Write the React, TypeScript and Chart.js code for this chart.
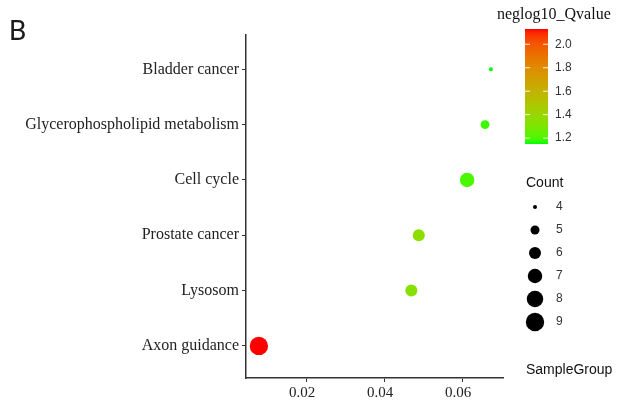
import React, { useEffect, useRef } from "react";
import { Chart, registerables } from "chart.js";

Chart.register(...registerables);

// Categories from bottom to top
const categories: string[] = [
  "Axon guidance",
  "Lysosom",
  "Prostate cancer",
  "Cell cycle",
  "Glycerophospholipid metabolism",
  "Bladder cancer",
];
const geneRatio: number[] = [0.0079, 0.047, 0.0489, 0.0613, 0.0659, 0.0674];
const counts: number[] = [9, 6, 6, 7, 5, 4];
const qvalues: number[] = [2.13, 1.34, 1.35, 1.2, 1.18, 1.15];

const xTicks: number[] = [0.02, 0.04, 0.06];
const colorTicks: number[] = [1.2, 1.4, 1.6, 1.8, 2.0];
const countLegend: number[] = [4, 5, 6, 7, 8, 9];

const X_MIN = 0.0046;
const X_MAX = 0.0705;

// ---- Lab interpolation (ggplot-like gradient) ----
function toLin(c: number) {
  c /= 255;
  return c <= 0.04045 ? c / 12.92 : Math.pow((c + 0.055) / 1.055, 2.4);
}
function fromLin(c: number) {
  const v = c <= 0.0031308 ? 12.92 * c : 1.055 * Math.pow(c, 1 / 2.4) - 0.055;
  return Math.max(0, Math.min(255, Math.round(v * 255)));
}
const WX = 0.95047, WY = 1, WZ = 1.08883;
function f(t: number) {
  return t > 0.008856 ? Math.cbrt(t) : 7.787 * t + 16 / 116;
}
function finv(t: number) {
  const t3 = t * t * t;
  return t3 > 0.008856 ? t3 : (t - 16 / 116) / 7.787;
}
function rgbToLab(rgb: number[]) {
  const r = toLin(rgb[0]), g = toLin(rgb[1]), b = toLin(rgb[2]);
  const X = 0.4124 * r + 0.3576 * g + 0.1805 * b;
  const Y = 0.2126 * r + 0.7152 * g + 0.0722 * b;
  const Z = 0.0193 * r + 0.1192 * g + 0.9505 * b;
  const fx = f(X / WX), fy = f(Y / WY), fz = f(Z / WZ);
  return [116 * fy - 16, 500 * (fx - fy), 200 * (fy - fz)];
}
function labToRgb(lab: number[]) {
  const fy = (lab[0] + 16) / 116;
  const fx = fy + lab[1] / 500;
  const fz = fy - lab[2] / 200;
  const X = WX * finv(fx), Y = WY * finv(fy), Z = WZ * finv(fz);
  const r = 3.2406 * X - 1.5372 * Y - 0.4986 * Z;
  const g = -0.9689 * X + 1.8758 * Y + 0.0415 * Z;
  const b = 0.0557 * X - 0.204 * Y + 1.057 * Z;
  return `rgb(${fromLin(r)},${fromLin(g)},${fromLin(b)})`;
}
const LOW = rgbToLab([0, 255, 0]);
const HIGH = rgbToLab([255, 0, 0]);
const qMin = Math.min(...qvalues);
const qMax = Math.max(...qvalues);
function colorFor(v: number) {
  const t = Math.max(0, Math.min(1, (v - qMin) / (qMax - qMin)));
  return labToRgb([0, 1, 2].map((i) => LOW[i] + (HIGH[i] - LOW[i]) * t));
}
const cMin = Math.min(...counts);
const cMax = Math.max(...counts);
function radiusFor(c: number) {
  const rMin = 2, rMax = 9.2;
  return Math.sqrt(rMin * rMin + ((rMax * rMax - rMin * rMin) * (c - cMin)) / (cMax - cMin));
}

const SERIF = "'Liberation Serif', 'Times New Roman', serif";
const SANS = "'Liberation Sans', Arial, sans-serif";

const legendPlugin = {
  id: "legendPlugin",
  afterDraw(chart: any) {
    const ctx = chart.ctx as CanvasRenderingContext2D;
    ctx.save();
    // Panel letter
    ctx.fillStyle = "#1a1a1a";
    ctx.font = `28px Roboto, 'Noto Sans', sans-serif`;
    ctx.textAlign = "left";
    ctx.textBaseline = "alphabetic";
    ctx.fillText("B", 9, 40);

    // Color legend title
    ctx.fillStyle = "#111";
    ctx.font = `16px ${SERIF}`;
    ctx.textBaseline = "middle";
    ctx.fillText("neglog10_Qvalue", 497, 15);

    // Colorbar
    const bx = 525, bw = 23, bTop = 29, bBot = 144;
    const grad = ctx.createLinearGradient(0, bBot, 0, bTop);
    for (let i = 0; i <= 30; i++) {
      const t = i / 30;
      grad.addColorStop(t, colorFor(qMin + (qMax - qMin) * t));
    }
    ctx.fillStyle = grad;
    ctx.fillRect(bx, bTop, bw, bBot - bTop);
    ctx.strokeStyle = "rgba(255,255,255,0.9)";
    ctx.lineWidth = 1;
    ctx.font = `12px ${SANS}`;
    for (const v of colorTicks) {
      const y = bBot - ((v - qMin) / (qMax - qMin)) * (bBot - bTop);
      ctx.beginPath();
      ctx.moveTo(bx, y);
      ctx.lineTo(bx + 5, y);
      ctx.moveTo(bx + bw - 5, y);
      ctx.lineTo(bx + bw, y);
      ctx.stroke();
      ctx.fillStyle = "#333";
      ctx.fillText(v.toFixed(1), 555, y);
    }

    // Count legend
    ctx.fillStyle = "#111";
    ctx.font = `14px ${SANS}`;
    ctx.fillText("Count", 526, 183);
    countLegend.forEach((c, i) => {
      const y = 207 + i * 23;
      ctx.fillStyle = "#000";
      ctx.beginPath();
      ctx.arc(535, y, radiusFor(c), 0, Math.PI * 2);
      ctx.fill();
      ctx.fillStyle = "#333";
      ctx.font = `12px ${SANS}`;
      ctx.fillText(String(c), 556, y);
    });

    ctx.fillStyle = "#111";
    ctx.font = `14px ${SANS}`;
    ctx.fillText("SampleGroup", 526, 370);
    ctx.restore();
  },
};

export default function App() {
  const ref = useRef<HTMLCanvasElement>(null);
  useEffect(() => {
    if (!ref.current) return;
    const chart = new Chart(ref.current, {
      type: "scatter",
      data: {
        datasets: [
          {
            data: categories.map((_, i) => ({ x: geneRatio[i], y: i + 1 })),
            pointRadius: counts.map(radiusFor),
            pointHoverRadius: counts.map(radiusFor),
            backgroundColor: qvalues.map(colorFor),
            borderColor: qvalues.map(colorFor),
            borderWidth: 0,
          },
        ],
      },
      options: {
        animation: false,
        responsive: false,
        events: [],
        layout: { padding: { left: 0, top: 35, right: 119, bottom: 0 } },
        plugins: { legend: { display: false }, tooltip: { enabled: false } },
        scales: {
          x: {
            type: "linear",
            min: X_MIN,
            max: X_MAX,
            afterBuildTicks: (s: any) => {
              s.ticks = xTicks.map((v) => ({ value: v }));
            },
            afterFit: (s: any) => {
              s.height = 30;
            },
            ticks: {
              callback: (v: any) => Number(v).toFixed(2),
              font: { family: SERIF, size: 15 },
              color: "#222",
              padding: 2,
              labelOffset: -4,
              maxRotation: 0,
              autoSkip: false,
            },
            grid: { drawOnChartArea: false, drawTicks: true, tickLength: 4, color: "#333", lineWidth: 1 },
            border: { display: true, color: "#333", width: 1.5 },
          },
          y: {
            type: "linear",
            min: 0.42,
            max: 6.62,
            afterBuildTicks: (s: any) => {
              s.ticks = categories.map((_, i) => ({ value: i + 1 }));
            },
            afterFit: (s: any) => {
              s.width = 246;
            },
            ticks: {
              callback: (v: any) => categories[Math.round(Number(v)) - 1] ?? "",
              font: { family: SERIF, size: 16 },
              color: "#222",
              padding: 3,
              autoSkip: false,
            },
            grid: { drawOnChartArea: false, drawTicks: true, tickLength: 4, color: "#333", lineWidth: 1 },
            border: { display: true, color: "#333", width: 1.5 },
          },
        },
      },
      plugins: [legendPlugin],
    });
    return () => chart.destroy();
  }, []);
  return (
    <div style={{ position: "fixed", left: 0, top: 0, width: 622, height: 408, background: "#fff" }}>
      <canvas ref={ref} width={622} height={408} style={{ display: "block" }} />
    </div>
  );
}
